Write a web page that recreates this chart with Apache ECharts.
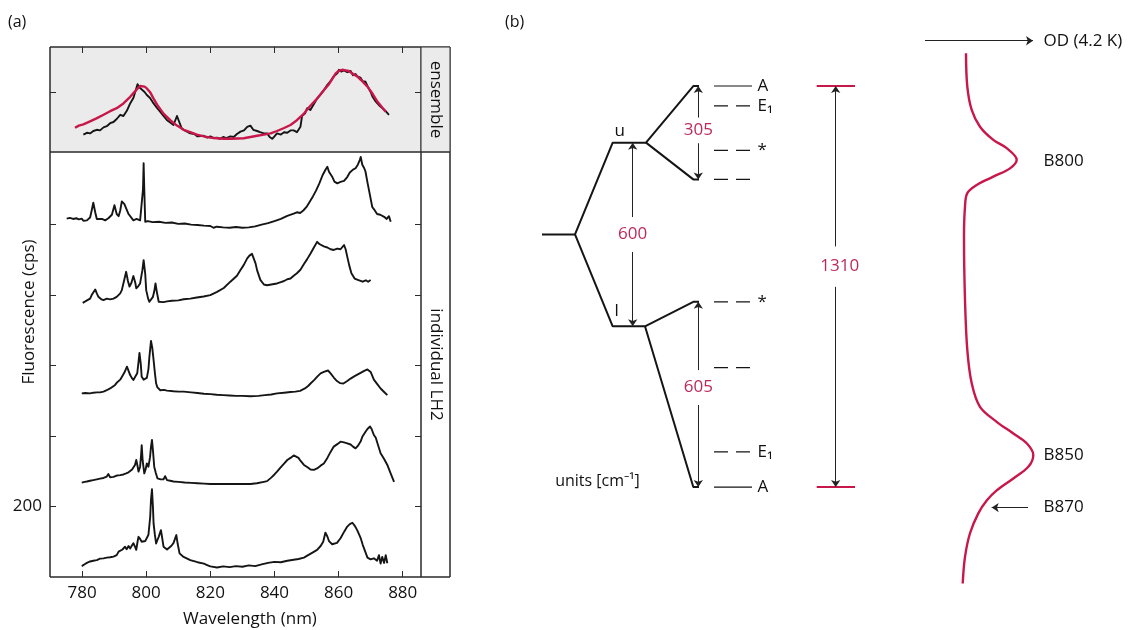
<!DOCTYPE html>
<html>
<head>
<meta charset="utf-8">
<script src="https://cdn.jsdelivr.net/npm/echarts@6.0.0/dist/echarts.min.js"></script>
<style>
html, body { margin: 0; padding: 0; background: #fff; }
#chart { width: 1133px; height: 630px; }
</style>
</head>
<body>
<div id="chart"></div>
<script>
// ---------- panel (a) data ----------
const wavelengthTicks = [780, 800, 820, 840, 860, 880]
const cpsTicks = [200, 400, 600, 800, 1000]
const cpsLabels = [200]
const ensembleTicks = [1]

// ensemble spectrum (normalised) and fit
const ensembleMeasured = [[780.4,0.29],[781.5,0.32],[782.5,0.31],[783.5,0.35],[784.6,0.37],[785.6,0.36],[786.7,0.41],[787.7,0.43],[788.75,0.48],[789.8,0.50],[790.8,0.55],[791.9,0.62],[792.9,0.60],[794,0.69],[795,0.81],[796,0.90],[797.3,1.13],[798,1.07],[798.6,1.06],[799.5,1.00],[800.2,0.95],[801.2,0.90],[802.3,0.81],[803.3,0.74],[804.4,0.67],[805.4,0.60],[806.5,0.53],[807.5,0.49],[808.5,0.45],[809.6,0.60],[810.1,0.62],[811.1,0.39],[812,0.36],[813.75,0.31],[815,0.30],[816,0.26],[817.9,0.27],[819,0.24],[820,0.26],[821,0.23],[822.1,0.24],[823,0.22],[824,0.25],[825,0.23],[826.25,0.26],[827.3,0.25],[828.3,0.30],[829.4,0.34],[830.5,0.36],[831.5,0.42],[832.5,0.44],[833.4,0.37],[834.6,0.35],[835.5,0.33],[836.7,0.31],[837.7,0.31],[838.5,0.25],[839.3,0.22],[840,0.26],[840.8,0.31],[842,0.29],[843,0.33],[844,0.32],[845,0.36],[846,0.36],[847,0.33],[848.1,0.42],[848.6,0.60],[849.5,0.64],[850.2,0.73],[851.2,0.70],[852.3,0.80],[853.3,0.89],[854.4,0.96],[855.4,1.03],[856.5,1.12],[857.5,1.18],[858.5,1.26],[859.6,1.31],[860.1,1.37],[860.8,1.34],[861.7,1.36],[862.7,1.33],[863.75,1.35],[864.5,1.28],[865.3,1.30],[865.8,1.26],[866.8,1.24],[867.5,1.18],[868.4,1.17],[869,1.10],[869.5,1.05],[870,1.00],[870.6,0.92],[871.1,0.95],[871.6,0.84],[872.1,0.83],[872.6,0.78],[873.1,0.76],[873.7,0.73],[874.2,0.72],[874.7,0.68],[875.2,0.66],[875.7,0.62]]
const ensembleFit = [[777.8,0.405],[779,0.44],[780.4,0.46],[782.5,0.51],[784.5,0.56],[786.7,0.62],[788.75,0.68],[790.8,0.73],[792.9,0.81],[795,0.92],[797,1.04],[798.1,1.10],[798.6,1.11],[799.5,1.09],[800.2,1.06],[801.3,0.99],[802.3,0.89],[803.4,0.79],[805.4,0.64],[807.5,0.53],[809.6,0.44],[811.7,0.37],[813.75,0.33],[815.8,0.29],[818,0.26],[820,0.24],[822,0.23],[824.2,0.22],[826.3,0.22],[828.3,0.225],[830.4,0.23],[832.5,0.25],[834.6,0.27],[836.7,0.29],[838.8,0.31],[840.8,0.35],[843,0.40],[845,0.45],[847,0.53],[849.2,0.64],[851.2,0.77],[853.3,0.89],[855.4,1.03],[857,1.13],[859.1,1.31],[860,1.35],[861.1,1.37],[862.2,1.36],[863.2,1.35],[864.2,1.31],[865.8,1.26],[867,1.20],[869,1.09],[870.6,0.97],[872.1,0.84],[873.6,0.74],[874.7,0.67]]

// single complexes, offset vertically (cps)
const lh2Trace1 = [[775.2,1017],[776.2,1019],[777.2,1016],[778.2,1018],[779,1015],[779.9,1017],[780.4,1011],[781.5,1012],[782.5,1020],[783,1040],[783.5,1062],[784.1,1035],[784.6,1016],[785.1,1013],[786.2,1016],[787.2,1012],[788.2,1018],[789.3,1028],[790.1,1055],[790.8,1030],[791.4,1024],[791.9,1040],[792.4,1066],[792.7,1070],[793.2,1058],[793.75,1060],[794.5,1030],[795,1025],[796,1012],[797,1016],[798.1,1012],[798.7,1015],[799,1100],[799.2,1174],[799.4,1100],[799.7,1008],[800.5,1010],[802,1007],[804,1008],[806,1005],[808,1006],[810,1002],[812,1003],[814,1000],[816,999],[818,997],[820,996],[821,991],[822,994],[824,992],[826,991],[828,993],[830,991],[832,992],[834,995],[836,1000],[838,1004],[840,1010],[842,1016],[844,1025],[846,1031],[847,1035],[848,1033],[849,1040],[850,1050],[851,1065],[852,1080],[853,1097],[854,1117],[855,1140],[856,1157],[856.5,1164],[857,1150],[858,1136],[858.7,1122],[859.6,1117],[860.6,1121],[861.7,1124],[862.7,1135],[863.5,1148],[864.5,1156],[865.3,1160],[866,1170],[866.6,1183],[866.9,1192],[867.4,1170],[868,1160],[868.4,1150],[869,1120],[869.6,1092],[870.5,1050],[871,1044],[872,1030],[873,1028],[874.2,1022],[875,1016],[875.7,1024],[876.25,1008]]
const lh2Trace2 = [[780.2,778],[781,782],[781.5,781],[782.5,790],[783,800],[784.1,816],[784.6,805],[785.1,795],[786,788],[786.7,786],[787.7,790],[788.75,788],[789.8,790],[790.8,795],[791.9,805],[792.4,814],[793.2,845],[793.75,866],[794.3,840],[794.8,824],[795.4,835],[796,854],[796.6,835],[796.9,819],[797.5,825],[798.1,833],[798.8,870],[799.2,899],[799.7,860],[800,814],[800.6,790],[801,781],[801.5,785],[802.1,795],[802.5,810],[802.9,833],[803.3,810],[803.9,781],[804.5,778],[805.4,780],[806.5,782],[808,784],[810,785],[811.7,788],[813.75,790],[815.8,793],[817.9,796],[820,800],[822.1,809],[824.2,820],[826.25,838],[828.3,855],[829.4,871],[830.4,885],[831.5,904],[832.2,912],[833,917],[833.5,912],[834.1,890],[834.6,870],[835.6,843],[836.7,830],[837.7,828],[839,830],[840.8,833],[842,837],[843,840],[844,845],[845,847],[846,855],[847,862],[848.1,872],[849.2,888],[850.2,902],[851.25,918],[852.3,935],[853.3,951],[854,945],[854.4,940],[855.4,938],[856.5,935],[857.5,930],[858.5,928],[859.6,932],[860.6,930],[861.7,942],[862.2,930],[862.7,909],[863.3,885],[864,862],[865,847],[866,843],[867.5,838],[868.5,842],[869.2,838],[870,843]]
const lh2Trace3 = [[779.9,521],[781,522],[782.5,521],[783.5,523],[784.6,524],[785.6,524],[786.7,526],[787.7,530],[788.75,535],[789.3,540],[790.3,545],[790.8,551],[791.4,556],[791.9,560],[792.4,564],[793.2,580],[794,597],[794.5,585],[795,573],[795.5,565],[796,559],[796.6,562],[797.2,578],[797.6,610],[797.9,636],[798.3,605],[798.6,568],[799.2,560],[799.7,559],[800.2,565],[800.7,590],[801,625],[801.5,670],[801.9,650],[802.3,616],[802.7,580],[803.1,549],[803.5,538],[804.4,530],[805.5,531],[806.5,529],[808.5,527],[810,526],[811.7,526],[814,524],[816,522],[818,520],[820,519],[822,517],[824,516],[826,515],[828,514],[830,514],[832.5,513],[835,514],[837,516],[839,518],[840.8,521],[843,523],[845,525],[846.5,526],[848,528],[849.5,535],[850.5,542],[851.25,549],[852.5,560],[853.5,570],[854.4,578],[855.4,582],[856.7,586],[857.5,578],[858.5,566],[859.5,556],[860.5,550],[861.5,549],[862.7,556],[863.75,563],[865,570],[866,575],[867,580],[868,585],[869,589],[869.5,592],[870,582],[871,560],[872,548],[873.1,535],[874.2,525],[875.2,516]]
const lh2Trace4 = [[779.9,268],[780.8,270],[781.5,271],[782.5,273],[783.5,275],[784.6,277],[785.6,279],[786.7,281],[787.7,285],[788.2,292],[788.75,283],[789.8,284],[790.8,288],[791.9,289],[792.9,291],[793.75,294],[794.5,297],[795,299],[795.6,305],[796,308],[796.5,318],[796.9,332],[797.3,315],[797.6,299],[798.1,313],[798.4,345],[798.6,374],[798.9,330],[799.4,294],[799.8,305],[800.2,322],[800.7,313],[801.2,340],[801.5,370],[801.8,389],[802.1,360],[802.5,313],[803,295],[803.5,280],[804.5,277],[805.4,277],[805.9,286],[806.5,275],[807.5,273],[808.5,271],[810,270],[812,268],[814,267],[816,266],[818,265],[820,264],[822,264],[824,264],[826,264],[828,264],[830,264],[832.5,264],[834.5,266],[836.7,270],[837.7,272],[839,282],[840,291],[840.8,299],[842,312],[843,322],[844,332],[845,338],[846,345],[846.6,346],[847.5,338],[848.1,330],[849.2,318],[850.2,312],[851.25,305],[852.3,304],[853.3,308],[854.4,316],[855.4,322],[856.5,338],[857.5,355],[858.5,370],[859.6,377],[860.6,384],[861.7,382],[862.7,379],[863.75,376],[864.5,370],[865.3,365],[866,372],[866.9,385],[867.4,398],[868.4,412],[869,420],[869.8,427],[870.3,420],[871,403],[871.6,395],[872.1,380],[873.1,351],[874.2,335],[875.2,318],[876.2,295],[877.3,270]]
const lh2Trace5 = [[779.9,31],[780.8,36],[781.5,40],[782.5,44],[783.5,46],[784.6,48],[785.6,52],[786.7,53],[787.7,55],[788.75,56],[789.8,58],[790.8,62],[791.4,72],[792,70],[792.6,78],[793.4,86],[793.9,79],[794.5,88],[795,81],[795.6,90],[796,96],[796.6,84],[796.9,77],[797.3,100],[797.6,114],[798.1,108],[798.6,100],[799.2,97],[799.7,102],[800.2,105],[800.7,120],[801.25,171],[801.5,220],[801.8,249],[802.1,200],[802.3,152],[802.7,120],[803.1,95],[803.5,105],[803.9,114],[804.6,133],[805,110],[805.4,86],[806.5,78],[807,77],[807.8,88],[808.5,96],[809.4,119],[809.8,95],[810.4,67],[811.5,58],[813.75,48],[816,42],[818,38],[819,34],[820,30],[822.1,27],[824,30],[826,28],[828,31],[830,29],[832,33],[834,31],[836,36],[838,40],[840,43],[842,42],[844,46],[846,49],[847.5,51],[849.2,55],[850.5,62],[852,70],[853.3,77],[854.4,88],[855.2,100],[855.9,126],[856.5,115],[857,102],[858,93],[858.5,88],[859.5,97],[860.6,110],[861.7,128],[862.7,143],[863.5,150],[864.3,154],[865,146],[865.8,133],[866.9,110],[867.5,92],[868.4,70],[869,55],[870,50],[871,53],[872,46],[872.6,62],[873.1,38],[873.6,57],[874.2,40],[874.7,62],[875.2,39]]

// ---------- panel (b) data, energies in cm-1 above the lowest state ----------
const centreLevel = 825
const excitonLevels = [1125, 525]          // u, l
const excitonNames = ['u', 'l']
const upperStates = [1310, 1245, 1100, 1005]
const upperNames = ['A', 'E₁', '*', '']
const lowerStates = [605, 390, 115, 0]
const lowerNames = ['*', '', 'E₁', 'A']
const splittings = [600, 305, 605, 1310]

// 4.2 K absorption, drawn sideways on the same energy scale
const odEnergy = [1417, 1308, 1232, 1177, 1134, 1107, 1069, 1041, 1014, 987, 960, 916, 818, 611, 448, 339, 262, 213, 175, 143, 105, 66, 28, -11, -44, -86, -151, -228, -315]
const odValue = [0.16, 0.173, 0.217, 0.30, 0.433, 0.567, 0.667, 0.60, 0.433, 0.267, 0.173, 0.15, 0.14, 0.15, 0.173, 0.217, 0.30, 0.467, 0.633, 0.767, 0.833, 0.783, 0.633, 0.467, 0.367, 0.283, 0.20, 0.15, 0.127]
const bandNames = ['B800', 'B850', 'B870']
const bandEnergy = [1066, 105, -67]

// ---------- styling / layout ----------
const FONT = 'Open Sans'
const INK = '#2b2b2b'
const TXT = '#111'
const RED = '#c8174a'
const RED_TXT = '#bd2a5a'
const GREY = '#ebebeb'
// horizontal placement inside panel (b), in px from its left edge
const DX = { start: 42, junction: 75, levelL: 112.7, levelR: 146, branchEnd: 193.3, stub: 199,
  lineL: 214, lineR: 252, label: 256, uArrow: 132.7, sideArrow: 198.3, bigArrow: 335.7,
  redL: 316.7, redR: 355, odFrom: 425, odTo: 533, bandLabel: 543, b870From: 528, b870To: 491.7 }

let myChart = echarts.init(document.getElementById('chart'))

function trace (data, xi, yi, color, width) {
  return { type: 'line', xAxisIndex: xi, yAxisIndex: yi, data: data, symbol: 'none', showSymbol: false,
    silent: true, lineStyle: { color: color, width: width, join: 'round' }, z: 3 }
}
function diag (data, width, dash) {
  return { type: 'line', xAxisIndex: 5, yAxisIndex: 7, data: data, symbol: 'none', silent: true,
    lineStyle: { color: '#151515', width: width, type: dash ? [14, 8] : 'solid' }, z: 3 }
}
function txt (x, y, text, opt) {
  return { value: [x, y], label: Object.assign({ show: true, formatter: text, position: 'inside',
    fontSize: 17, color: TXT, fontFamily: FONT, opacity: 1 }, opt || {}) }
}
function hiddenAxis (gi, min, max) {
  return { type: 'value', gridIndex: gi, min: min, max: max, show: false }
}
function nameAxis (gi, name, extra) {
  return Object.assign({ type: 'value', gridIndex: gi, min: 0, max: 1, name: name, nameLocation: 'middle',
    nameTextStyle: { fontSize: 17, color: TXT, fontFamily: FONT, verticalAlign: 'middle', align: 'center' },
    axisLine: { show: false }, axisTick: { show: false }, axisLabel: { show: false }, splitLine: { show: false } }, extra)
}
function tickAxis (gi, min, max, pos, ticks, labels) {
  return { type: 'value', gridIndex: gi, min: min, max: max, position: pos,
    axisLine: { show: false, onZero: false },
    axisTick: { show: true, inside: true, length: 6, customValues: ticks, lineStyle: { color: INK, width: 1 } },
    axisLabel: labels ? { show: true, customValues: labels, fontSize: 17, color: TXT, fontFamily: FONT, margin: 8 } : { show: false },
    splitLine: { show: false } }
}

// diagram skeleton
const uE = excitonLevels[0], lE = excitonLevels[1]
const skeleton = [
  diag([[DX.start, centreLevel], [DX.junction, centreLevel], [DX.levelL, uE], [DX.levelR, uE], [DX.branchEnd, upperStates[0]], [DX.stub, upperStates[0]]], 2),
  diag([[DX.levelR, uE], [DX.branchEnd, upperStates[3]], [DX.stub, upperStates[3]]], 2),
  diag([[DX.junction, centreLevel], [DX.levelL, lE], [DX.levelR - 1, lE], [DX.branchEnd, lowerStates[0]], [DX.stub, lowerStates[0]]], 2),
  diag([[DX.levelR - 1, lE], [DX.branchEnd, lowerStates[3]], [DX.stub, lowerStates[3]]], 2)
]
const levelLines = []
const levelTexts = []
upperStates.concat(lowerStates).forEach(function (e, i) {
  const name = upperNames.concat(lowerNames)[i]
  levelLines.push(diag([[DX.lineL, e], [DX.lineR, e]], 1.2, name !== 'A'))
  if (name) levelTexts.push(txt(DX.label, e, name, { position: 'right', distance: 1 }))
})

// split arrows: [x, top level, bottom level, label energy, half gap]
const arrows = [
  [DX.uArrow, uE, lE, centreLevel, 57],
  [DX.sideArrow, upperStates[0], upperStates[3], 1165, 42],
  [DX.sideArrow, lowerStates[0], lowerStates[3], 325, 57],
  [DX.bigArrow, upperStates[0], lowerStates[3], 720, 66]
]
const arrowLines = []
const arrowTexts = []
arrows.forEach(function (a, i) {
  arrowLines.push([{ coord: [a[0], a[3] + a[4]] }, { coord: [a[0], a[1]] }])
  arrowLines.push([{ coord: [a[0], a[3] - a[4]] }, { coord: [a[0], a[2]] }])
  arrowTexts.push(txt(a[0] + (i === 3 ? 4 : 0), a[3], String(splittings[i]), { color: RED_TXT }))
})
arrowLines.push([{ coord: [DX.odFrom, 1458] }, { coord: [DX.odTo, 1458] }])
arrowLines.push([{ coord: [DX.b870From, bandEnergy[2]] }, { coord: [DX.b870To, bandEnergy[2]] }])

const otherTexts = [
  txt(DX.levelL + 7, uE + 36, excitonNames[0]),
  txt(DX.levelL + 4, lE + 48, excitonNames[1]),
  txt(97.5, 17, 'units [cm⁻¹]', { fontSize: 16 }),
  txt(DX.bandLabel, 1458, 'OD (4.2 K)', { position: 'right', distance: 0 })
]
bandNames.forEach(function (n, i) {
  otherTexts.push(txt(DX.bandLabel, bandEnergy[i], n, { position: 'right', distance: 0 }))
})

const option = {
  animation: false,
  textStyle: { fontFamily: FONT },
  title: [
    { text: '(a)', left: 3, top: 9, textStyle: { fontSize: 16, fontWeight: 'normal', color: TXT, fontFamily: FONT } },
    { text: '(b)', left: 500, top: 9, textStyle: { fontSize: 16, fontWeight: 'normal', color: TXT, fontFamily: FONT } }
  ],
  grid: [
    { left: 50, top: 47, width: 371, height: 105, show: true, backgroundColor: GREY, borderColor: INK, borderWidth: 1, outerBoundsMode: 'none' },
    { left: 50, top: 152, width: 371, height: 425, show: true, backgroundColor: 'transparent', borderColor: INK, borderWidth: 1, outerBoundsMode: 'none' },
    { left: 50, top: 47, width: 400, height: 530, show: true, backgroundColor: 'transparent', borderColor: INK, borderWidth: 1, outerBoundsMode: 'none' },
    { left: 421, top: 47, width: 29, height: 105, show: true, backgroundColor: GREY, borderColor: INK, borderWidth: 1, outerBoundsMode: 'none' },
    { left: 421, top: 152, width: 29, height: 425, show: true, backgroundColor: 'transparent', borderColor: INK, borderWidth: 1, outerBoundsMode: 'none' },
    { left: 500, top: 0, width: 633, height: 630, show: false, outerBoundsMode: 'none' },
    { left: 950, top: 0, width: 183, height: 630, show: false, outerBoundsMode: 'none' }
  ],
  xAxis: [
    tickAxis(0, 770, 885.7, 'top', wavelengthTicks, null),
    tickAxis(1, 770, 885.7, 'bottom', wavelengthTicks, wavelengthTicks),
    nameAxis(2, 'Wavelength (nm)', { nameGap: 42 }),
    hiddenAxis(3, 0, 1),
    hiddenAxis(4, 0, 1),
    hiddenAxis(5, 0, 633),
    hiddenAxis(6, 0, 1.83)
  ],
  yAxis: [
    tickAxis(0, 0, 1.75, 'left', ensembleTicks, null),
    tickAxis(0, 0, 1.75, 'right', ensembleTicks, null),
    tickAxis(1, 0, 1206, 'left', cpsTicks, cpsLabels),
    tickAxis(1, 0, 1206, 'right', cpsTicks, null),
    nameAxis(2, 'Fluorescence (cps)', { nameGap: 21, nameRotate: 90 }),
    nameAxis(3, 'ensemble', { position: 'left', nameGap: -15, nameRotate: -90 }),
    nameAxis(4, 'individual LH2', { position: 'left', nameGap: -15, nameRotate: -90 }),
    hiddenAxis(5, -467, 1591),
    hiddenAxis(6, -467, 1591)
  ],
  series: [
    trace(ensembleMeasured, 0, 0, '#151515', 1.9),
    trace(ensembleFit, 0, 0, RED, 2.4),
    trace(lh2Trace1, 1, 2, '#151515', 1.9),
    trace(lh2Trace2, 1, 2, '#151515', 1.9),
    trace(lh2Trace3, 1, 2, '#151515', 1.9),
    trace(lh2Trace4, 1, 2, '#151515', 1.9),
    trace(lh2Trace5, 1, 2, '#151515', 1.9),
    // absorption band
    { type: 'line', xAxisIndex: 6, yAxisIndex: 8, data: odValue.map(function (v, i) { return [v, odEnergy[i]] }),
      smooth: 0.35, symbol: 'none', silent: true, lineStyle: { color: RED, width: 2.4 } },
    // 1310 caps
    { type: 'line', xAxisIndex: 5, yAxisIndex: 7, data: [[DX.redL, upperStates[0]], [DX.redR, upperStates[0]]], symbol: 'none', silent: true, lineStyle: { color: RED, width: 2 } },
    { type: 'line', xAxisIndex: 5, yAxisIndex: 7, data: [[DX.redL, lowerStates[3]], [DX.redR, lowerStates[3]]], symbol: 'none', silent: true, lineStyle: { color: RED, width: 2 } }
  ].concat(skeleton, levelLines, [
    { type: 'scatter', xAxisIndex: 5, yAxisIndex: 7, symbolSize: 1, silent: true,
      itemStyle: { color: 'rgba(0,0,0,0)', opacity: 1 },
      data: levelTexts.concat(arrowTexts, otherTexts),
      markLine: { silent: true, symbol: ['none', 'arrow'], symbolSize: 7, label: { show: false },
        lineStyle: { color: '#222', width: 1, type: 'solid' }, emphasis: { disabled: true },
        data: arrowLines } }
  ])
}
myChart.setOption(option)
</script>
</body>
</html>
